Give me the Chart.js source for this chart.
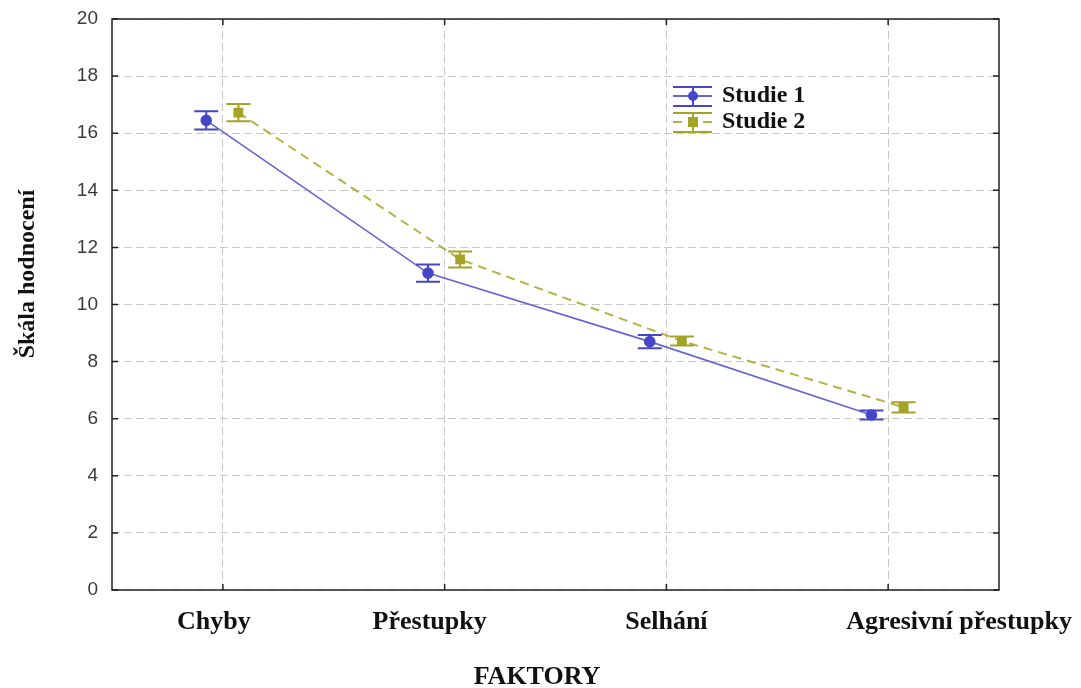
<!DOCTYPE html>
<html>
<head>
<meta charset="utf-8">
<script src="https://cdn.jsdelivr.net/npm/chart.js@4.4.1/dist/chart.umd.min.js"></script>
<style>
  body { margin: 0; background: #fff; }
  #wrap { width: 1081px; height: 688px; }
</style>
</head>
<body>
<div id="wrap"><canvas id="faktoryChart" width="1081" height="688"></canvas></div>
<script>
// categories and tick labels
const categories = ["Chyby", "Přestupky", "Selhání", "Agresivní přestupky"];
const yTickValues = [0, 2, 4, 6, 8, 10, 12, 14, 16, 18, 20];

// means and error half-widths per study
const studie1Means = [16.45, 11.1, 8.7, 6.13];
const studie1Err = [0.32, 0.3, 0.23, 0.16];
const studie2Means = [16.72, 11.58, 8.72, 6.4];
const studie2Err = [0.3, 0.28, 0.16, 0.18];

const BLUE = "#4646c8";
const OLIVE = "#a3a326";
const serifBold = "bold 26px 'Liberation Serif', 'Times New Roman', serif";
const legendFont = "bold 24px 'Liberation Serif', 'Times New Roman', serif";

// points are nudged sideways so the two studies do not overlap
const toPoints = (means, shift) => means.map((v, i) => ({ x: i + shift, y: v }));

// horizontal shift of each category label (px)
const labelShift = [-9, -15, 0, 71];

const errorBars = {
  id: "errorBars",
  afterDatasetsDraw(chart) {
    const c = chart.ctx;
    const ys = chart.scales.y;
    const xs = chart.scales.x2;
    chart.data.datasets.forEach((ds) => {
      c.save();
      c.strokeStyle = ds.pointBackgroundColor;
      c.lineWidth = 2;
      ds.data.forEach((p, i) => {
        const px = xs.getPixelForValue(p.x);
        const top = ys.getPixelForValue(p.y + ds.errors[i]);
        const bot = ys.getPixelForValue(p.y - ds.errors[i]);
        c.beginPath();
        c.moveTo(px, top); c.lineTo(px, bot);
        c.moveTo(px - 12, top); c.lineTo(px + 12, top);
        c.moveTo(px - 12, bot); c.lineTo(px + 12, bot);
        c.stroke();
      });
      c.restore();
    });
  },
};

const frameAndText = {
  id: "frameAndText",
  afterDraw(chart) {
    const c = chart.ctx;
    const a = chart.chartArea;
    const ys = chart.scales.y;
    const xs = chart.scales.x;
    c.save();
    // box around the plot with inward ticks
    c.strokeStyle = "#222";
    c.lineWidth = 1.5;
    c.strokeRect(a.left, a.top, a.right - a.left, a.bottom - a.top);
    c.beginPath();
    yTickValues.forEach((v) => {
      const py = ys.getPixelForValue(v);
      c.moveTo(a.left, py); c.lineTo(a.left + 6, py);
      c.moveTo(a.right, py); c.lineTo(a.right - 6, py);
    });
    categories.forEach((_, i) => {
      const px = xs.getPixelForValue(i);
      c.moveTo(px, a.top); c.lineTo(px, a.top + 6);
      c.moveTo(px, a.bottom); c.lineTo(px, a.bottom - 6);
    });
    c.stroke();

    // category labels and axis titles
    c.fillStyle = "#111";
    c.font = serifBold;
    c.textAlign = "center";
    c.textBaseline = "middle";
    categories.forEach((lab, i) => {
      c.fillText(lab, xs.getPixelForValue(i) + labelShift[i], 622);
    });
    c.fillText("FAKTORY", 537, 677);
    c.font = "bold 24px 'Liberation Serif', 'Times New Roman', serif";
    c.translate(28, 274);
    c.rotate(-Math.PI / 2);
    c.fillText("Škála hodnocení", 0, 0);
    c.restore();

    // legend
    c.save();
    const rows = [
      { ds: chart.data.datasets[0], y: 96 },
      { ds: chart.data.datasets[1], y: 122 },
    ];
    rows.forEach(({ ds, y }) => {
      const x0 = 673, x1 = 712, mx = 693;
      c.strokeStyle = ds.pointBackgroundColor;
      c.lineWidth = 2;
      c.beginPath();
      c.moveTo(x0, y - 9); c.lineTo(x1, y - 9);
      c.moveTo(x0, y + 10); c.lineTo(x1, y + 10);
      c.moveTo(mx, y - 9); c.lineTo(mx, y + 10);
      c.stroke();
      c.strokeStyle = ds.borderColor;
      c.setLineDash(ds.borderDash || []);
      c.beginPath();
      c.moveTo(x0, y); c.lineTo(x1, y);
      c.stroke();
      c.setLineDash([]);
      c.fillStyle = ds.pointBackgroundColor;
      if (ds.pointStyle === "rect") {
        c.fillRect(mx - 5, y - 5, 10, 10);
      } else {
        c.beginPath();
        c.arc(mx, y, 5, 0, Math.PI * 2);
        c.fill();
      }
      c.fillStyle = "#111";
      c.font = legendFont;
      c.textAlign = "left";
      c.textBaseline = "middle";
      c.fillText(ds.label, 722, y);
    });
    c.restore();
  },
};

new Chart(document.getElementById("faktoryChart"), {
  type: "line",
  data: {
    labels: categories,
    datasets: [
      {
        label: "Studie 1",
        data: toPoints(studie1Means, -0.075),
        errors: studie1Err,
        xAxisID: "x2",
        borderColor: "#6464d6",
        borderWidth: 1.6,
        pointStyle: "circle",
        pointRadius: 5,
        pointBackgroundColor: BLUE,
        pointBorderColor: BLUE,
      },
      {
        label: "Studie 2",
        data: toPoints(studie2Means, 0.07),
        errors: studie2Err,
        xAxisID: "x2",
        borderColor: "#b2b245",
        borderWidth: 2,
        borderDash: [9, 6],
        pointStyle: "rect",
        pointRadius: 5.5,
        pointBackgroundColor: OLIVE,
        pointBorderColor: OLIVE,
      },
    ],
  },
  options: {
    responsive: false,
    animation: false,
    layout: { padding: { top: 19, right: 82, left: 0, bottom: 0 } },
    scales: {
      x: {
        type: "category",
        offset: true,
        grid: {
          offset: false,
          color: "#c8c8c8",
          lineWidth: 1,
          drawTicks: false,
        },
        border: { display: false, dash: [8, 4] },
        ticks: { display: false },
        afterFit(scale) {
          scale.height = 98;
          scale.paddingLeft = 0;
          scale.paddingRight = 0;
        },
      },
      x2: {
        type: "linear",
        display: false,
        min: -0.5,
        max: 3.5,
      },
      y: {
        min: 0,
        max: 20,
        ticks: {
          stepSize: 2,
          padding: 14,
          color: "#3a3a3a",
          font: { family: "'Liberation Sans', Arial, sans-serif", size: 19 },
        },
        grid: { color: "#c8c8c8", lineWidth: 1, drawTicks: false },
        border: { display: false, dash: [8, 4] },
        afterFit(scale) {
          scale.width = 112;
          scale.paddingTop = 0;
          scale.paddingBottom = 0;
        },
      },
    },
    plugins: {
      legend: { display: false },
      tooltip: { enabled: false },
    },
  },
  plugins: [errorBars, frameAndText],
});
</script>
</body>
</html>
